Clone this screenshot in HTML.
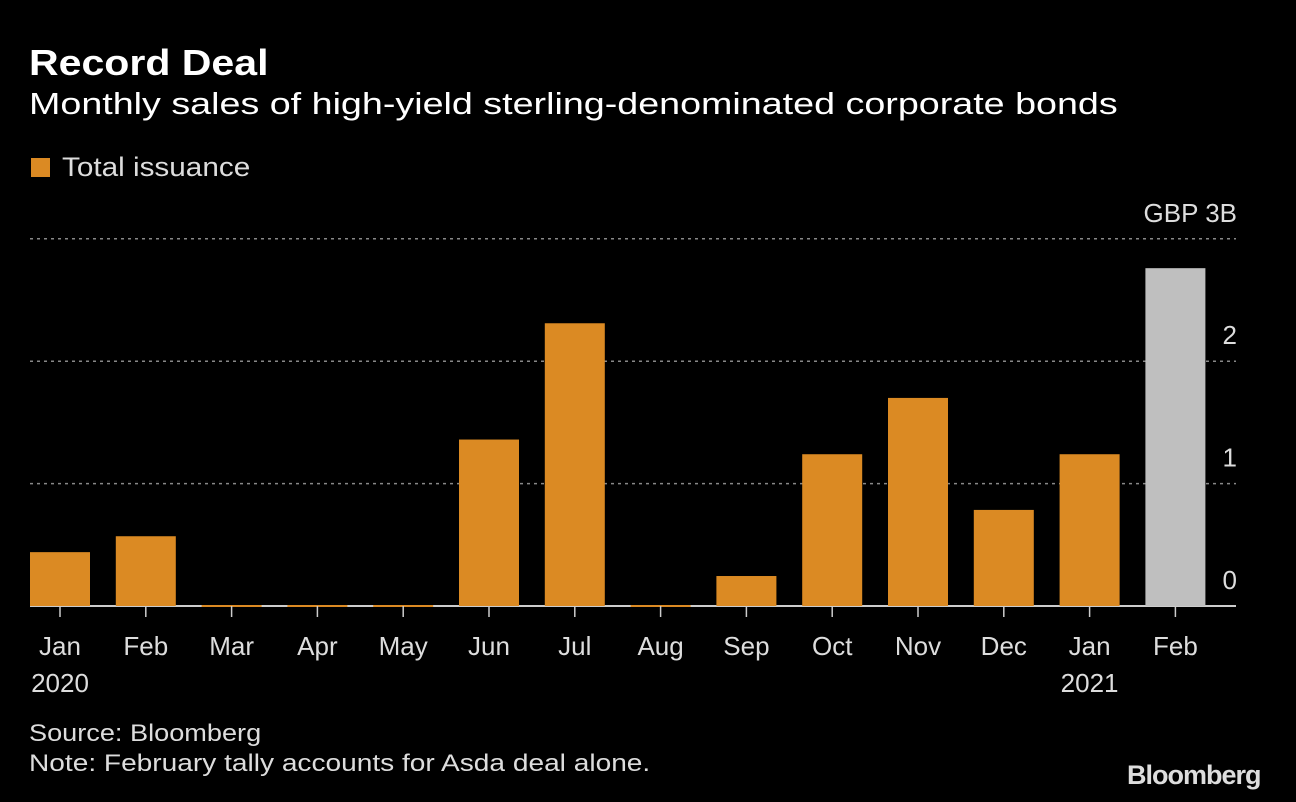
<!DOCTYPE html>
<html><head><meta charset="utf-8"><style>
html,body{margin:0;padding:0;background:#000;}
body{width:1296px;height:802px;overflow:hidden;position:relative;font-family:"Liberation Sans",sans-serif;color:#fff;}
.t{position:absolute;white-space:nowrap;transform-origin:0 0;}
</style></head><body>
<div class="t" style="left:29px;top:42px;font-size:36px;font-weight:bold;transform:scaleX(1.14)">Record Deal</div>
<div class="t" style="left:29px;top:86px;font-size:31px;transform:scaleX(1.215)">Monthly sales of high-yield sterling-denominated corporate bonds</div>
<div class="t" style="left:31px;top:152px;font-size:27px;color:#ddd;"><span style="display:inline-block;width:19px;height:19px;background:#db8a23;margin-right:12px;vertical-align:-1px"></span><span style="display:inline-block;transform:scaleX(1.1);transform-origin:0 0">Total issuance</span></div>
<div class="t" style="left:29px;top:720px;font-size:24px;color:#ddd;transform:scaleX(1.13)">Source: Bloomberg</div>
<div class="t" style="left:29px;top:750px;font-size:24px;color:#ddd;transform:scaleX(1.17)">Note: February tally accounts for Asda deal alone.</div>
<div class="t" style="left:1127px;top:760px;font-size:27px;font-weight:bold;color:#ddd;letter-spacing:-1px;">Bloomberg</div>
<svg id="chart" width="1296" height="802" style="position:absolute;left:0;top:0" font-family="Liberation Sans, sans-serif"></svg>
<script>
const categories=["Jan","Feb","Mar","Apr","May","Jun","Jul","Aug","Sep","Oct","Nov","Dec","Jan","Feb"];
const years=["2020","","","","","","","","","","","","2021",""];
const values=[0.44,0.57,0,0,0,1.36,2.31,0,0.245,1.24,1.70,0.785,1.24,2.76];
const highlight=[0,0,0,0,0,0,0,0,0,0,0,0,0,1];
const tickValues=[0,1,2,3];
const tickLabels=["0","1","2","GBP 3B"];
const NS="http://www.w3.org/2000/svg";
const svg=document.getElementById('chart');
const y=v=>606-v*122.4;
const x=i=>60+i*85.8;
function mk(t,a){const e=document.createElementNS(NS,t);for(const k in a)e.setAttribute(k,a[k]);svg.appendChild(e);return e;}
tickValues.forEach((v,i)=>{
 if(v>0){const g=mk('line',{x1:30,x2:1236,y1:y(v),y2:y(v),stroke:'#888','stroke-width':1.5,'stroke-dasharray':'3,4'});
 
 }
 const t=mk('text',{x:1237,y:y(v)-17,'text-anchor':'end','font-size':26,fill:'#ddd'});t.textContent=tickLabels[i];
 
 
});
const b=mk('line',{x1:30,x2:1236,y1:606,y2:606,stroke:'#ccc','stroke-width':2});


values.forEach((v,i)=>{
 const h=Math.max(v*122.4,2);
 const r=mk('rect',{x:x(i)-30,y:606-h+(v===0?1:0),width:60,height:h,fill:highlight[i]?'#bfbfbf':'#db8a23'});
 
 
 const tk=mk('line',{x1:x(i),x2:x(i),y1:606,y2:617,stroke:'#ccc','stroke-width':1.5});
 
 
 const t=mk('text',{x:x(i),y:655,'text-anchor':'middle','font-size':26,fill:'#ddd'});t.textContent=categories[i];
 
 
 if(years[i]){const yt=mk('text',{x:x(i),y:692,'text-anchor':'middle','font-size':26,fill:'#ddd'});yt.textContent=years[i];
 
 }
});
</script>
</body></html>
